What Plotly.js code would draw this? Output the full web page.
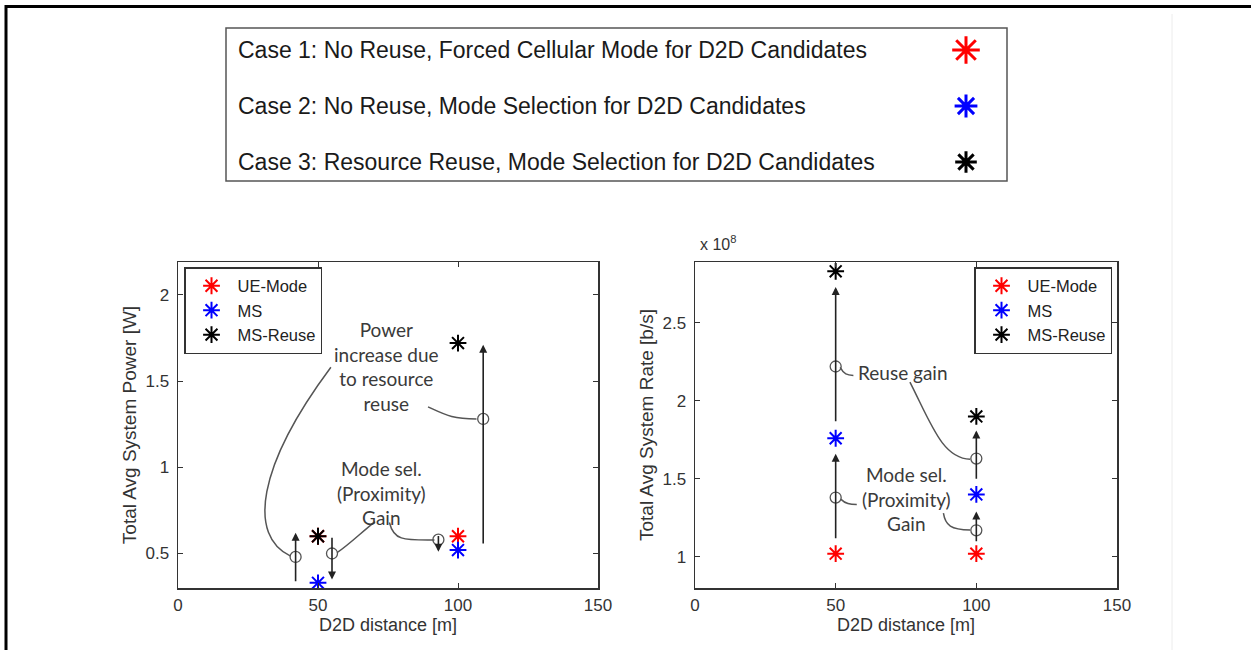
<!DOCTYPE html>
<html>
<head>
<meta charset="utf-8">
<script src="https://cdn.plot.ly/plotly-3.0.1.min.js"></script>
<style>html,body{margin:0;padding:0;background:#fff;}#chart{width:1251px;height:650px;}</style>
</head>
<body>
<div id="chart"></div>
<script>
// ---------------- data ----------------
const seriesNames = ["UE-Mode", "MS", "MS-Reuse"];
const seriesColors = ["#ff0000", "#0000ff", "#000000"];
const caseLabels = [
  "Case 1: No Reuse, Forced Cellular Mode for D2D Candidates",
  "Case 2: No Reuse, Mode Selection for D2D Candidates",
  "Case 3: Resource Reuse, Mode Selection for D2D Candidates"
];
const d2dDistance = [50, 100];                 // m
const powerUE = [0.60, 0.60];                  // W
const powerMS = [0.33, 0.52];
const powerReuse = [0.60, 1.72];
const rateUE = [1.02, 1.02];                   // x 10^8 b/s
const rateMS = [1.76, 1.40];
const rateReuse = [2.83, 1.90];

const xTicks = [0, 50, 100, 150];
const powerTicks = [0.5, 1, 1.5, 2];
const rateTicks = [1, 1.5, 2, 2.5];

// gain indicators (arrows with mid circles)
const powerArrowX = [42, 55, 93, 109];
const powerArrowFrom = [0.33, 0.60, 0.61, 0.55];
const powerArrowTo = [0.62, 0.35, 0.51, 1.71];
const powerArrowMid = [0.48, 0.50, 0.58, 1.28];
const rateArrowX = [50, 50, 100, 100];
const rateArrowFrom = [1.11, 1.86, 1.09, 1.49];
const rateArrowTo = [1.66, 2.73, 1.29, 1.81];
const rateArrowMid = [1.38, 2.22, 1.17, 1.63];

// callout texts
const powerTexts = ["Power<br>increase due<br>to resource<br>reuse", "Mode sel.<br>(Proximity)<br>Gain"];
const powerTextX = [74.5, 72.5];
const powerTextY = [1.585, 0.85];
const rateTexts = ["Reuse gain", "Mode sel.<br>(Proximity)<br>Gain"];
const rateTextX = [74, 75];
const rateTextY = [2.18, 1.372];

// callout leader curves: [start, ctrl1, ctrl2, end] in data units
const powerCurves = [
  [[54.6, 1.58], [28, 1.0], [25, 0.6], [40.2, 0.485]],
  [[89.3, 1.35], [96, 1.30], [98, 1.28], [106.6, 1.28]],
  [[70.4, 0.685], [66, 0.63], [61, 0.55], [56.8, 0.505]],
  [[75.5, 0.68], [77, 0.58], [80, 0.575], [91.6, 0.578]]
];
const rateCurves = [
  [[51.6, 2.215], [53, 2.17], [54, 2.165], [56.3, 2.163]],
  [[76.4, 2.12], [84, 1.85], [88, 1.63], [97.8, 1.626]],
  [[51.8, 1.37], [53.5, 1.34], [55, 1.335], [57.5, 1.335]],
  [[88.3, 1.28], [89, 1.2], [91, 1.175], [97.8, 1.172]]
];

// ---------------- helpers ----------------
const W = 1251, H = 650;
const px = v => v / W;
const py = v => 1 - v / H;
const FONT = "Liberation Sans, Arial, sans-serif";
const CALLOUT_FONT = "Lato, sans-serif";

const traces = [];
const powerSeries = [powerUE, powerMS, powerReuse];
const rateSeries = [rateUE, rateMS, rateReuse];
function starMarker(color, size) {
  return {symbol: "asterisk-open", size: size, color: color, line: {color: color, width: 2}};
}
seriesNames.forEach((name, i) => {
  traces.push({x: d2dDistance, y: powerSeries[i], type: "scatter", mode: "markers", name: name,
    xaxis: "x", yaxis: "y", legend: "legend", marker: starMarker(seriesColors[i], 14)});
});
seriesNames.forEach((name, i) => {
  traces.push({x: d2dDistance, y: rateSeries[i], type: "scatter", mode: "markers", name: name,
    xaxis: "x2", yaxis: "y2", legend: "legend2", marker: starMarker(seriesColors[i], 14)});
});
// mid circles
traces.push({x: powerArrowX, y: powerArrowMid, type: "scatter", mode: "markers", showlegend: false,
  xaxis: "x", yaxis: "y", marker: {symbol: "circle-open", size: 11, color: "#555", line: {width: 1.3, color: "#555"}}});
traces.push({x: rateArrowX, y: rateArrowMid, type: "scatter", mode: "markers", showlegend: false,
  xaxis: "x2", yaxis: "y2", marker: {symbol: "circle-open", size: 11, color: "#555", line: {width: 1.3, color: "#555"}}});
// top legend stars (overlay axes in pixel units)
const caseStarX = [966, 966, 966];
const caseStarY = [50, 106, 162];
const caseStarSize = [23, 19, 18];
caseStarX.forEach((x, i) => {
  traces.push({x: [x], y: [caseStarY[i]], type: "scatter", mode: "markers", showlegend: false,
    xaxis: "x3", yaxis: "y3", hoverinfo: "skip",
    marker: {symbol: "asterisk-open", size: caseStarSize[i], color: seriesColors[i],
             line: {color: seriesColors[i], width: 3}}});
});

const annotations = [];
function addArrows(xs, from, to, xr, yr) {
  xs.forEach((x, i) => {
    annotations.push({x: x, y: to[i], ax: x, ay: from[i], xref: xr, yref: yr, axref: xr, ayref: yr,
      showarrow: true, arrowhead: 2, arrowsize: 1, arrowwidth: 1.6, arrowcolor: "#222", text: ""});
  });
}
addArrows(powerArrowX, powerArrowFrom, powerArrowTo, "x", "y");
addArrows(rateArrowX, rateArrowFrom, rateArrowTo, "x2", "y2");
function addTexts(texts, xs, ys, xr, yr) {
  texts.forEach((t, i) => {
    annotations.push({x: xs[i], y: ys[i], xref: xr, yref: yr, text: t, showarrow: false,
      font: {family: CALLOUT_FONT, size: 19, color: "#3a3a3a"}, align: "center"});
  });
}
addTexts(powerTexts, powerTextX, powerTextY, "x", "y");
addTexts(rateTexts, rateTextX, rateTextY, "x2", "y2");
caseLabels.forEach((t, i) => {
  annotations.push({x: px(236), y: py(caseStarY[i]), xref: "paper", yref: "paper", xanchor: "left", yanchor: "middle",
    text: t, showarrow: false, font: {family: FONT, size: 23, color: "#1a1a1a"}});
});
annotations.push({x: px(698), y: py(243), xref: "paper", yref: "paper", xanchor: "left", yanchor: "middle",
  text: "x 10<sup>8</sup>", showarrow: false, font: {family: FONT, size: 16, color: "#333"}});

const shapes = [];
function curvePath(c) {
  return "M" + c[0][0] + "," + c[0][1] + " C" + c[1][0] + "," + c[1][1] + " " + c[2][0] + "," + c[2][1] + " " + c[3][0] + "," + c[3][1];
}
powerCurves.forEach(c => shapes.push({type: "path", xref: "x", yref: "y", path: curvePath(c), line: {color: "#555", width: 1.5}}));
rateCurves.forEach(c => shapes.push({type: "path", xref: "x2", yref: "y2", path: curvePath(c), line: {color: "#555", width: 1.5}}));
// frame
shapes.push({type: "line", xref: "paper", yref: "paper", x0: px(5), x1: 1, y0: py(6.5), y1: py(6.5), line: {color: "#000", width: 3}});
shapes.push({type: "line", xref: "paper", yref: "paper", x0: px(6), x1: px(6), y0: 0, y1: py(5), line: {color: "#000", width: 3}});
shapes.push({type: "line", xref: "paper", yref: "paper", x0: px(1172), x1: px(1172), y0: 0, y1: py(14), line: {color: "#ececec", width: 1}});
// top legend box
shapes.push({type: "rect", xref: "paper", yref: "paper", x0: px(226), x1: px(1007), y0: py(181), y1: py(28), line: {color: "#555", width: 1.5}});

const axisCommon = {
  showline: true, linecolor: "#333", linewidth: 1.5, mirror: "ticks", ticks: "inside", ticklen: 5,
  tickcolor: "#333", tickwidth: 1, showgrid: false, zeroline: false,
  tickfont: {family: FONT, size: 17, color: "#333"}, fixedrange: true
};
const xTitle = {text: "D2D distance [m]", font: {family: FONT, size: 18, color: "#333"}, standoff: 2};

const layout = {
  width: W, height: H, margin: {l: 0, r: 0, t: 0, b: 0},
  paper_bgcolor: "#fff", plot_bgcolor: "rgba(0,0,0,0)",
  showlegend: true,
  xaxis: Object.assign({}, axisCommon, {domain: [px(178), px(598)], range: [0, 150], tickvals: xTicks, anchor: "y", title: xTitle, ticklabelstandoff: 1}),
  yaxis: Object.assign({}, axisCommon, {domain: [py(588), py(262)], range: [0.3, 2.19], tickvals: powerTicks, anchor: "x", ticklabelstandoff: 4,
    title: {text: "Total Avg System Power [W]", font: {family: FONT, size: 19, color: "#333"}, standoff: 4}}),
  xaxis2: Object.assign({}, axisCommon, {domain: [px(695), px(1117)], range: [0, 150], tickvals: xTicks, anchor: "y2", title: xTitle, ticklabelstandoff: 1}),
  yaxis2: Object.assign({}, axisCommon, {domain: [py(588), py(262)], range: [0.8, 2.89], tickvals: rateTicks, anchor: "x2", ticklabelstandoff: 4,
    title: {text: "Total Avg System Rate [b/s]", font: {family: FONT, size: 19, color: "#333"}, standoff: 4}}),
  xaxis3: {domain: [0, 1], range: [0, W], visible: false, anchor: "y3", fixedrange: true},
  yaxis3: {domain: [0, 1], range: [H, 0], visible: false, anchor: "x3", fixedrange: true},
  legend: {x: px(184), y: py(267), xanchor: "left", yanchor: "top", bgcolor: "#fff", bordercolor: "#333", borderwidth: 1.5,
    font: {family: FONT, size: 16.5, color: "#222"}, tracegroupgap: 0, itemwidth: 42},
  legend2: {x: px(1112), y: py(267), xanchor: "right", yanchor: "top", bgcolor: "#fff", bordercolor: "#333", borderwidth: 1.5,
    font: {family: FONT, size: 16.5, color: "#222"}, tracegroupgap: 0, itemwidth: 42},
  annotations: annotations,
  shapes: shapes
};

Plotly.newPlot("chart", traces, layout, {displayModeBar: false, staticPlot: true});
</script>
</body>
</html>
